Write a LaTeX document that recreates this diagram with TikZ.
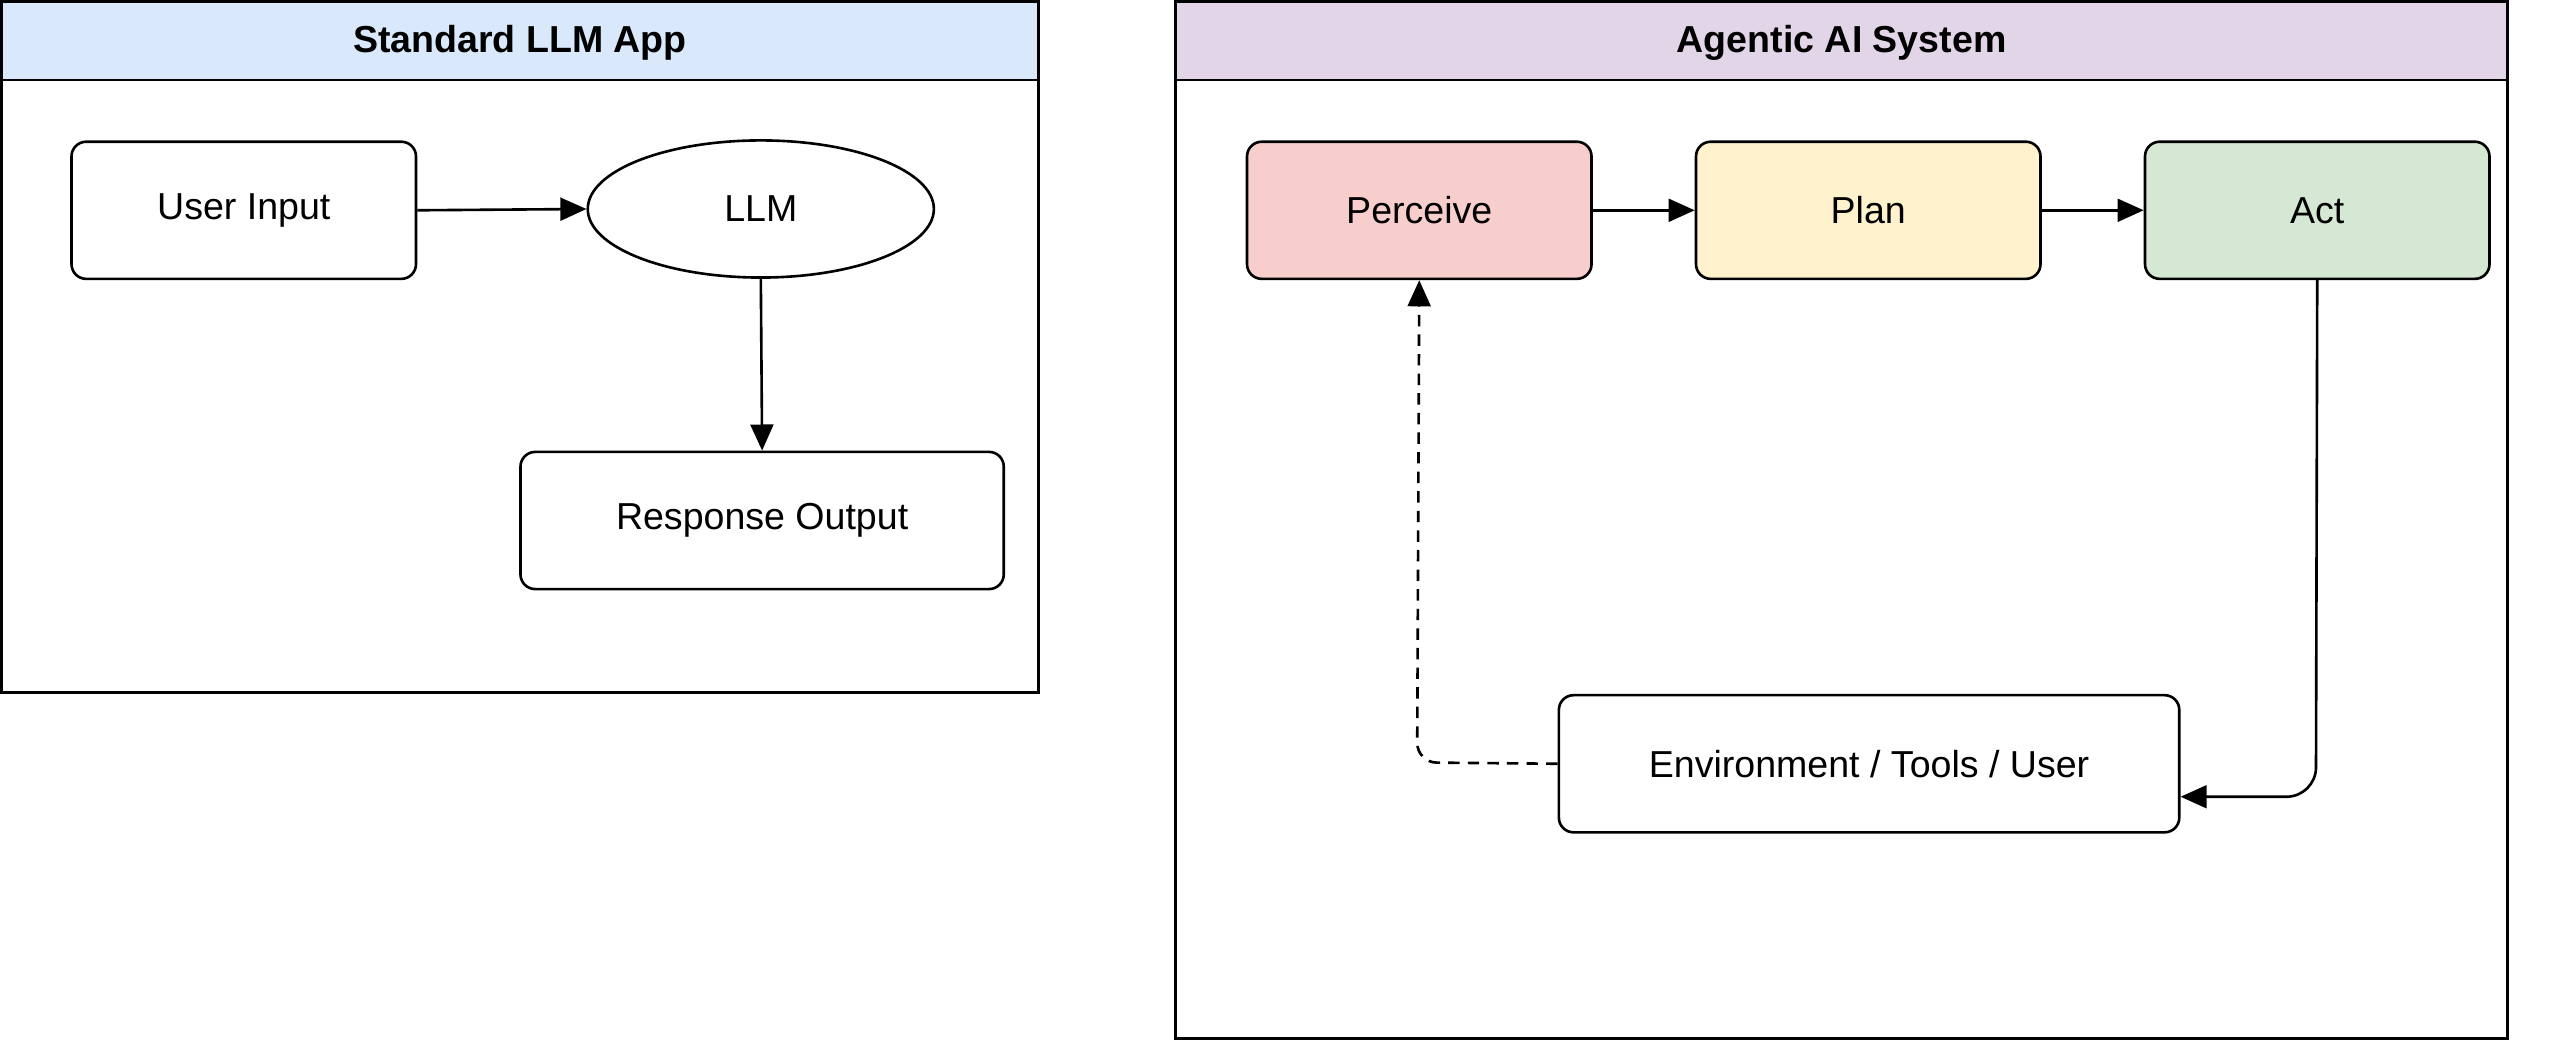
\documentclass[tikz,border=0pt]{standalone}
\usepackage{fontspec}
\setmainfont{Liberation Sans}
\usetikzlibrary{shapes.geometric,arrows.meta}
\definecolor{hblue}{HTML}{DAE8FC}
\definecolor{hpurp}{HTML}{E1D5E7}
\definecolor{cred}{HTML}{F8CECC}
\definecolor{cyel}{HTML}{FFF2CC}
\definecolor{cgrn}{HTML}{D5E8D4}
\begin{document}
\begin{tikzpicture}[x=1pt,y=-1pt,
  box/.style={draw,line width=1.6pt,rounded corners=9pt,minimum width=211pt,minimum height=84pt,font=\fontsize{23}{27}\selectfont,anchor=north west,inner sep=0},
  arr/.style={line width=1.6pt,-{Triangle[length=16pt,width=14pt]}},
  frame/.style={draw,line width=1.6pt},
  ttl/.style={font=\bfseries\fontsize{23}{27}\selectfont}]
\useasboundingbox (0,0) rectangle (1568,637);
% left container
\filldraw[frame,fill=hblue] (1,1) rectangle (636,49);
\draw[frame] (1,49) rectangle (636,424);
\node[ttl] (t1) at (318.5,26) {Standard LLM App};
\node[box] (ui) at (43,86) {User Input};
\node[draw,line width=1.6pt,ellipse,minimum width=212pt,minimum height=84pt,inner sep=0,font=\fontsize{23}{27}\selectfont] (llm) at (466,128) {LLM};
\node[box,minimum width=296pt] (ro) at (318,276) {Response Output};
\draw[arr] (ui.east) -- (llm.west);
\draw[arr] (llm.south) -- (ro.north);
% right container
\filldraw[frame,fill=hpurp] (720,1) rectangle (1536,49);
\draw[frame] (720,49) rectangle (1536,636);
\node[ttl] (t2) at (1128,26) {Agentic AI System};
\node[box,fill=cred] (pe) at (763,86) {Perceive};
\node[box,fill=cyel] (pl) at (1038,86) {Plan};
\node[box,fill=cgrn] (ac) at (1313,86) {Act};
\node[box,minimum width=380pt] (env) at (954,425) {Environment / Tools / User};
\draw[arr] (pe.east) -- (pl.west);
\draw[arr] (pl.east) -- (ac.west);
\coordinate (c1) at (1418.5,488);
\draw[arr,rounded corners=18pt] (ac.south) -- (c1) -- (env.east |- c1);
\coordinate (c2) at (868,467);
\draw[arr,dashed,dash pattern=on 7pt off 5pt,rounded corners=12pt] (env.west) -- (c2) -- (pe.south);
\end{tikzpicture}
\end{document}
